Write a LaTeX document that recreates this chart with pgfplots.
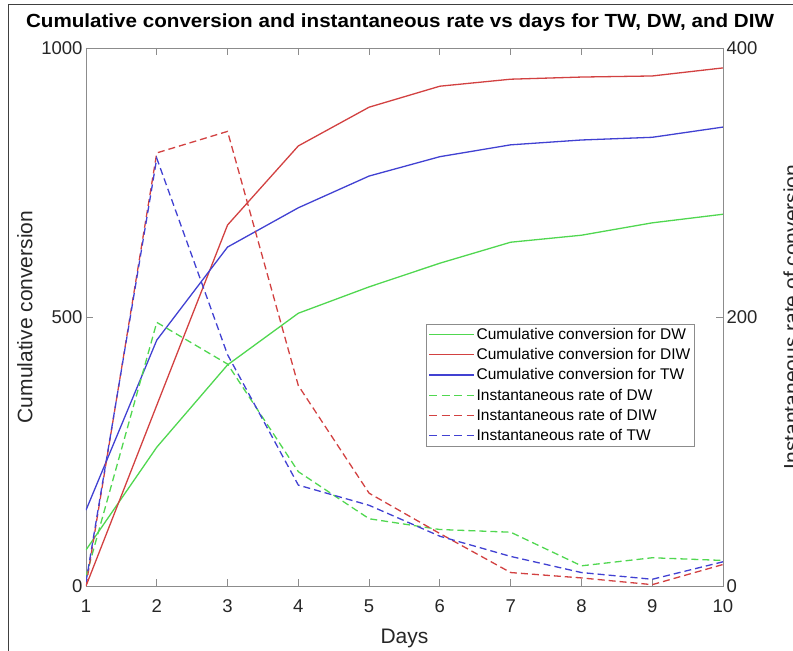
\documentclass[border=0pt]{standalone}
\usepackage{fontspec}
\setmainfont{Liberation Sans}
\usepackage{pgfplots}
\pgfplotsset{compat=1.18}

\definecolor{cgreen}{RGB}{80,215,80}
\definecolor{cred}{RGB}{210,65,65}
\definecolor{cblue}{RGB}{65,65,210}
\definecolor{axgray}{RGB}{140,140,140}
\definecolor{txt}{RGB}{38,38,38}

\pgfplotsset{
  common/.style={
    scale only axis, width=637pt, height=538pt,
    at={(0,0)}, anchor=south west,
    xmin=1, xmax=10,
    axis line style={axgray, line width=0.8pt},
    tick style={axgray, line width=0.8pt},
    tick align=inside, major tick length=7pt,
    tick label style={font=\fontsize{18.5}{20}\selectfont, text=txt},
    /pgf/number format/assume math mode=true,
    /pgf/number format/1000 sep={},
  },
  dashleg/.style={legend image code/.code={
    \draw[##1, solid] (0pt,0pt) -- (8pt,0pt) (12.5pt,0pt) -- (20.5pt,0pt)
      (25pt,0pt) -- (33pt,0pt) (37.5pt,0pt) -- (45pt,0pt);}},
}

\begin{document}
\begin{tikzpicture}
% left axis: cumulative conversion
\begin{axis}[common,
  ymin=0, ymax=1000, ytick={0,500,1000},
  xtick={1,...,10}, xtick pos=both, xticklabel pos=bottom,
  ytick pos=left,
  xticklabel style={yshift=-10pt},
  xlabel={Days}, ylabel={Cumulative conversion},
  every axis x label/.style={at={(axis description cs:0.5,-0.0967)}, anchor=center,
    font=\fontsize{21}{24}\selectfont, text=txt},
  every axis y label/.style={at={(axis description cs:-0.0958,0.5)}, anchor=center, rotate=90,
    font=\fontsize{21}{24}\selectfont, text=txt},
  title={\scalebox{1.085}[1]{\textbf{Cumulative conversion and instantaneous rate vs days for TW, DW, and DIW}}},
  every axis title/.style={at={(axis description cs:0.493,1.048)}, anchor=center,
    font=\fontsize{19}{22}\selectfont, text=black},
]
\addplot[cgreen, line width=1.3pt] coordinates {(1,67) (2,258) (3,411) (4,507) (5,556) (6,600) (7,639) (8,652) (9,675) (10,691)};
\addplot[cred, line width=1.3pt] coordinates {(1,0) (2,336) (3,671) (4,818) (5,890) (6,929) (7,942) (8,946) (9,948) (10,963)};
\addplot[cblue, line width=1.3pt] coordinates {(1,141) (2,457) (3,630) (4,703) (5,762) (6,798) (7,820) (8,829) (9,834) (10,853)};
\end{axis}

% right axis: instantaneous rate
\begin{axis}[common,
  axis y line*=right, axis x line=none,
  ymin=0, ymax=400, ytick={0,200,400},
  ylabel={Instantaneous rate of conversion},
  every axis y label/.style={at={(axis description cs:1.0895,0.5)}, anchor=north, rotate=90,
    font=\fontsize{21}{24}\selectfont, text=txt},
  legend style={at={(0.534,0.487)}, anchor=north west, draw=axgray, fill=white,
    font=\fontsize{15.5}{18}\selectfont, inner sep=2pt, row sep=3.5pt},
  legend cell align=left,
  legend image code/.code={\draw[#1] (0pt,0pt) -- (45pt,0pt);},
]
\addlegendimage{cgreen, line width=1.3pt}
\addlegendentry{Cumulative conversion for DW}
\addlegendimage{cred, line width=1.3pt}
\addlegendentry{Cumulative conversion for DIW}
\addlegendimage{cblue, line width=1.3pt}
\addlegendentry{Cumulative conversion for TW}
\addlegendimage{cgreen, line width=1.3pt, dashleg}
\addlegendentry{Instantaneous rate of DW}
\addlegendimage{cred, line width=1.3pt, dashleg}
\addlegendentry{Instantaneous rate of DIW}
\addlegendimage{cblue, line width=1.3pt, dashleg}
\addlegendentry{Instantaneous rate of TW}
\addplot[cgreen, line width=1.3pt, dash pattern=on 7pt off 4pt, forget plot] coordinates {(1,7) (2,196) (3,165) (4,85) (5,50) (6,42) (7,40) (8,15) (9,21) (10,19)};
\addplot[cred, line width=1.3pt, dash pattern=on 7pt off 4pt, forget plot] coordinates {(1,0) (2,322) (3,338) (4,149) (5,69) (6,39) (7,10) (8,6) (9,1) (10,16)};
\addplot[cblue, line width=1.3pt, dash pattern=on 7pt off 4pt, forget plot] coordinates {(1,3) (2,318) (3,172) (4,75) (5,60) (6,37) (7,22) (8,10) (9,5) (10,18)};
\end{axis}

% outer frame of the original figure (top and left edges)
\draw[black!75, line width=1pt] (-77pt,-80pt) -- (-77pt,581pt) -- (720pt,581pt);
\pgfresetboundingbox
\useasboundingbox (-86pt,-65pt) rectangle (707pt,586pt);
\end{tikzpicture}
\end{document}
